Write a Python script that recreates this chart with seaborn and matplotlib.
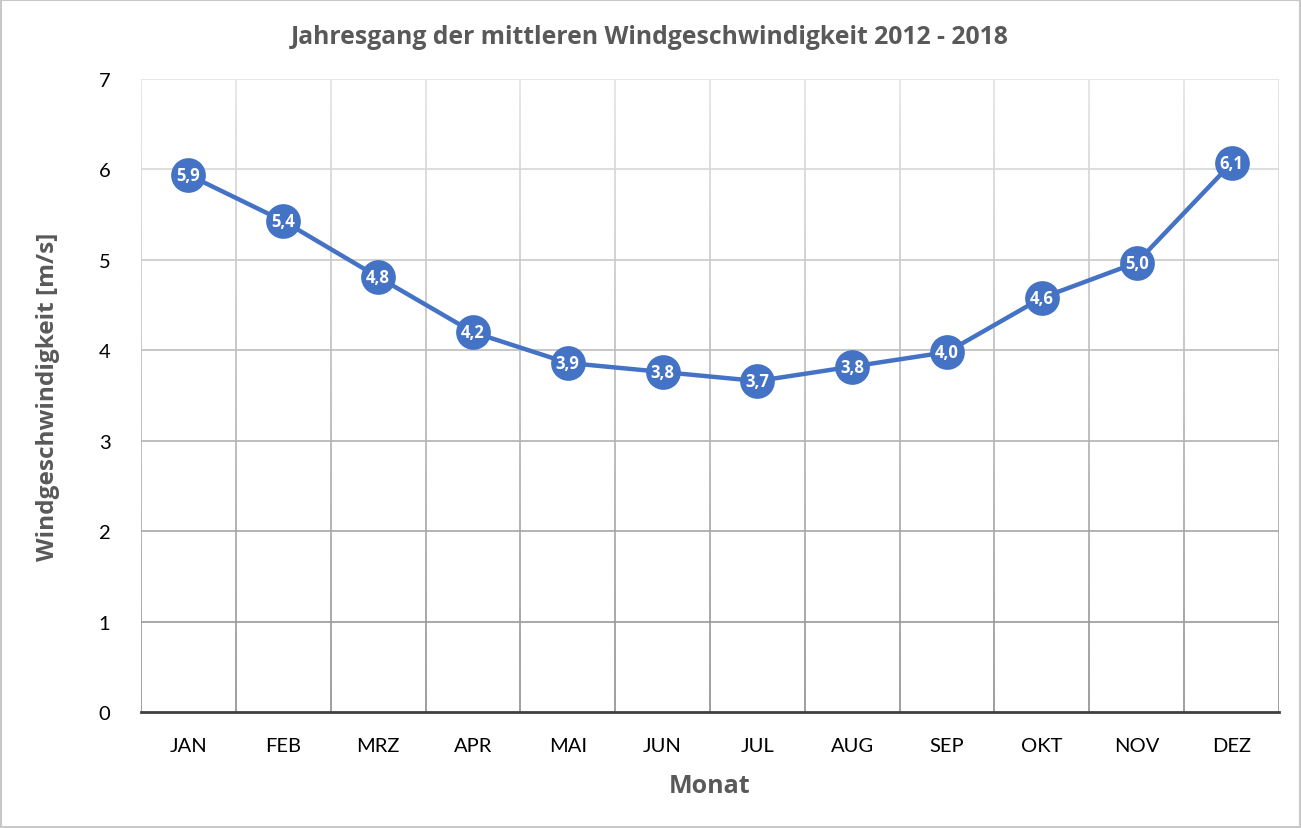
import matplotlib
matplotlib.use("Agg")
import matplotlib.pyplot as plt
import seaborn as sns
import numpy as np
import pandas as pd
from matplotlib.collections import LineCollection
from matplotlib.patches import Rectangle

months = ["JAN", "FEB", "MRZ", "APR", "MAI", "JUN", "JUL", "AUG", "SEP", "OKT", "NOV", "DEZ"]
wind = [5.94, 5.43, 4.81, 4.20, 3.86, 3.76, 3.66, 3.82, 3.98, 4.58, 4.97, 6.07]
yticks = [0, 1, 2, 3, 4, 5, 6, 7]

title = "Jahresgang der mittleren Windgeschwindigkeit 2012 - 2018"
xlabel = "Monat"
ylabel = "Windgeschwindigkeit [m/s]"

sns.set_theme(style="white")
plt.rcParams['font.family'] = ['Lato', 'DejaVu Sans']
BOLD = ['Open Sans', 'DejaVu Sans']

fig = plt.figure(figsize=(13.01, 8.29), dpi=100)
ax = fig.add_axes([141/1301, 1 - 713/829, (1279-141)/1301, (713-80)/829])

df = pd.DataFrame({"Monat": months, "Wind": wind})
blue = "#4472C4"

top_c = np.array([0.89, 0.89, 0.89])
bot_c = np.array([0.55, 0.55, 0.55])
def gcol(y):
    t = y / 7.0
    return tuple(bot_c + (top_c - bot_c) * t)

for yv in yticks[1:]:
    ax.axhline(yv, color=gcol(yv), lw=1.2, zorder=0)
segs, cols = [], []
ys = np.linspace(0, 7, 141)
for xb in np.arange(-0.5, len(months) + 0.5, 1.0):
    for i in range(len(ys) - 1):
        segs.append([(xb, ys[i]), (xb, ys[i + 1])])
        cols.append(gcol((ys[i] + ys[i + 1]) / 2))
ax.add_collection(LineCollection(segs, colors=cols, linewidths=1.2, zorder=0))

sns.lineplot(data=df, x="Monat", y="Wind", ax=ax, color=blue, lw=3.2,
             marker="o", markersize=25, markeredgecolor="white",
             markeredgewidth=0, zorder=3, sort=False)

for i, v in enumerate(wind):
    ax.text(i, v, f"{v:.1f}".replace(".", ","), ha="center", va="center",
            color="white", fontsize=12, fontweight="bold", family=BOLD, zorder=4)

ax.set_xlim(-0.5, len(months) - 0.5)
ax.set_ylim(0, 7)
ax.set_yticks(yticks)
ax.set_yticklabels([str(t) for t in yticks])
for s in ["top", "right", "left"]:
    ax.spines[s].set_visible(False)
ax.spines["bottom"].set_color("#404040")
ax.spines["bottom"].set_linewidth(2)
ax.tick_params(axis="both", length=0, labelsize=14.5, colors="black")
ax.tick_params(axis="x", pad=18)
ax.tick_params(axis="y", pad=22)

ax.set_xlabel(xlabel, fontsize=18, fontweight="bold", color="#595959", labelpad=14, family=BOLD)
ax.set_ylabel(ylabel, fontsize=17.6, fontweight="bold", color="#595959", labelpad=28, family=BOLD)
fig.text(650/1301, 1 - 38/829, title, ha="center", va="center",
         fontsize=17.8, fontweight="bold", color="#595959", family=BOLD)

fig.patches.append(Rectangle((0.0008, 0.0012), 0.9984, 0.9976, transform=fig.transFigure,
                             fill=False, edgecolor="#c8c8c8", lw=1.5))

fig.savefig("out.png", dpi=100)
